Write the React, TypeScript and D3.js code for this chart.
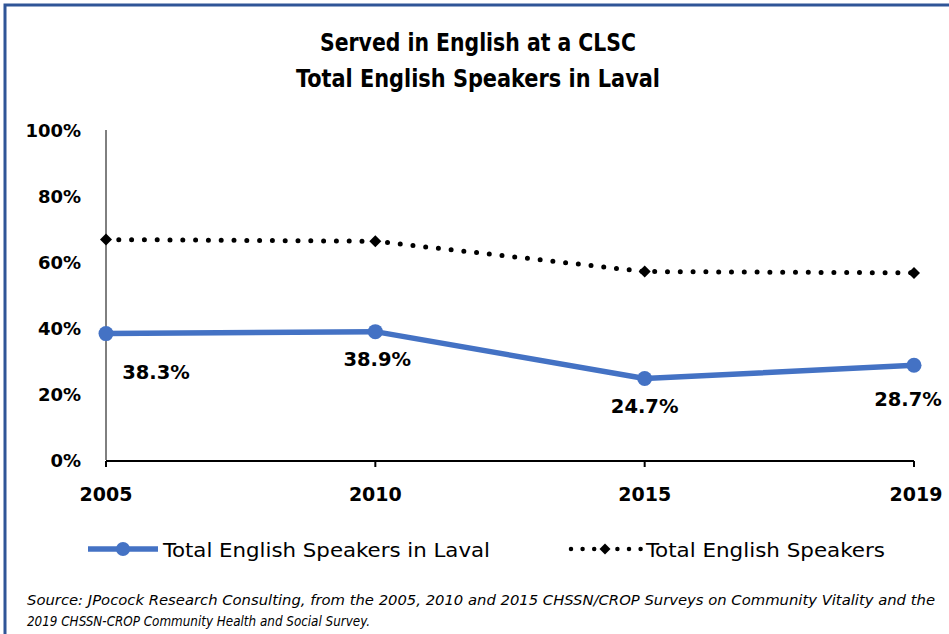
import React from "react";
import * as d3 from "d3";

const years = ["2005", "2010", "2015", "2019"];
const lavalValues = [38.3, 38.9, 24.7, 28.7];
const totalValues = [66.8, 66.3, 57.1, 56.7];
const yTicks = [0, 20, 40, 60, 80, 100];
const titleLines = ["Served in English at a CLSC", "Total English Speakers in Laval"];
const seriesNames = ["Total English Speakers in Laval", "Total English Speakers"];
const sourceLines = [
  "Source: JPocock Research Consulting, from the 2005, 2010  and 2015  CHSSN/CROP Surveys on Community Vitality and the",
  "2019  CHSSN-CROP Community Health and Social Survey.",
];

const W = 949;
const H = 634;
const BLUE = "#4472C4";
const COND = "'DejaVu Sans Condensed', 'DejaVu Sans', sans-serif";
const SANS = "'DejaVu Sans', sans-serif";

function diamondPath(r: number) {
  const p = d3.path();
  p.moveTo(0, -r);
  p.lineTo(r, 0);
  p.lineTo(0, r);
  p.lineTo(-r, 0);
  p.closePath();
  return p.toString();
}

export default function App() {
  const x = d3.scalePoint<string>().domain(years).range([106, 914]);
  const y = d3.scaleLinear().domain([0, 100]).range([460, 130]);

  const line = d3
    .line<number>()
    .x((_, i) => x(years[i]) as number)
    .y((d) => y(d));

  const labelOffsets = [
    { dx: 50, dy: 45 },
    { dx: 2, dy: 34 },
    { dx: 0, dy: 35 },
    { dx: -6, dy: 41 },
  ];

  const diamond = diamondPath(6);
  const diamondSmall = diamondPath(5.5);

  return (
    <svg
      width={W}
      height={H}
      style={{ position: "absolute", left: 0, top: 0, background: "#fff" }}
    >
      <rect x={0} y={0} width={W} height={H} fill="#fff" />
      <rect x={5} y={5} width={W + 20} height={H + 20} fill="none" stroke="#2F5597" strokeWidth={3} />

      {titleLines.map((t, i) => (
        <text
          key={t}
          x={478}
          y={51 + i * 36}
          textAnchor="middle"
          fontFamily={COND}
          fontWeight="bold"
          fontSize={24}
          fill="#000"
          textLength={i === 0 ? 316 : 364}
          lengthAdjust="spacingAndGlyphs"
        >
          {t}
        </text>
      ))}

      {/* y axis */}
      <line x1={106} x2={106} y1={y(100)} y2={y(0)} stroke="#000" strokeWidth={1} />
      {yTicks.map((t) => (
        <text
          key={t}
          x={81}
          y={y(t) + 7}
          textAnchor="end"
          fontFamily={SANS}
          fontWeight="bold"
          fontSize={18}
          fill="#000"
        >
          {t}%
        </text>
      ))}

      {/* x axis */}
      <line x1={106} x2={914} y1={461} y2={461} stroke="#000" strokeWidth={2} />
      {years.map((yr) => (
        <g key={yr}>
          <line x1={x(yr)} x2={x(yr)} y1={461} y2={467} stroke="#000" strokeWidth={2} />
          <text
            x={(x(yr) as number) + (yr === "2019" ? 2 : 0)}
            y={501}
            textAnchor="middle"
            fontFamily={SANS}
            fontWeight="bold"
            fontSize={19}
            fill="#000"
          >
            {yr}
          </text>
        </g>
      ))}

      {/* total dotted */}
      <path
        d={line(totalValues) || ""}
        fill="none"
        stroke="#000"
        strokeWidth={5}
        strokeLinecap="round"
        strokeDasharray="0 12.8"
      />
      {totalValues.map((v, i) => (
        <path
          key={i}
          d={diamond}
          transform={`translate(${x(years[i])},${y(v)})`}
          fill="#000"
        />
      ))}

      {/* laval line */}
      <path d={line(lavalValues) || ""} fill="none" stroke={BLUE} strokeWidth={5.5} strokeLinejoin="round" />
      {lavalValues.map((v, i) => (
        <circle key={i} cx={x(years[i])} cy={y(v)} r={7.5} fill={BLUE} />
      ))}
      {lavalValues.map((v, i) => (
        <text
          key={i}
          x={(x(years[i]) as number) + labelOffsets[i].dx}
          y={y(v) + labelOffsets[i].dy}
          textAnchor="middle"
          fontFamily={SANS}
          fontWeight="bold"
          fontSize={19.5}
          fill="#000"
        >
          {v.toFixed(1)}%
        </text>
      ))}

      {/* legend */}
      <line x1={88} x2={158} y1={549} y2={549} stroke={BLUE} strokeWidth={5.5} />
      <circle cx={123} cy={549} r={7} fill={BLUE} />
      <text x={163} y={557} fontFamily={COND} fontSize={20} fill="#000" textLength={327} lengthAdjust="spacingAndGlyphs">
        {seriesNames[0]}
      </text>
      <line
        x1={571}
        x2={641}
        y1={549}
        y2={549}
        stroke="#000"
        strokeWidth={4.5}
        strokeLinecap="round"
        strokeDasharray="0 11.6"
      />
      <path d={diamondSmall} transform="translate(605,549)" fill="#000" />
      <text x={646} y={557} fontFamily={COND} fontSize={20} fill="#000" textLength={239} lengthAdjust="spacingAndGlyphs">
        {seriesNames[1]}
      </text>

      {/* source */}
      {sourceLines.map((s, i) => (
        <text
          key={i}
          x={27}
          y={605 + i * 21}
          fontFamily={COND}
          fontStyle="italic"
          fontSize={14.5}
          fill="#000"
          textLength={i === 0 ? 908 : 343}
          lengthAdjust="spacingAndGlyphs"
        >
          {s}
        </text>
      ))}
    </svg>
  );
}
